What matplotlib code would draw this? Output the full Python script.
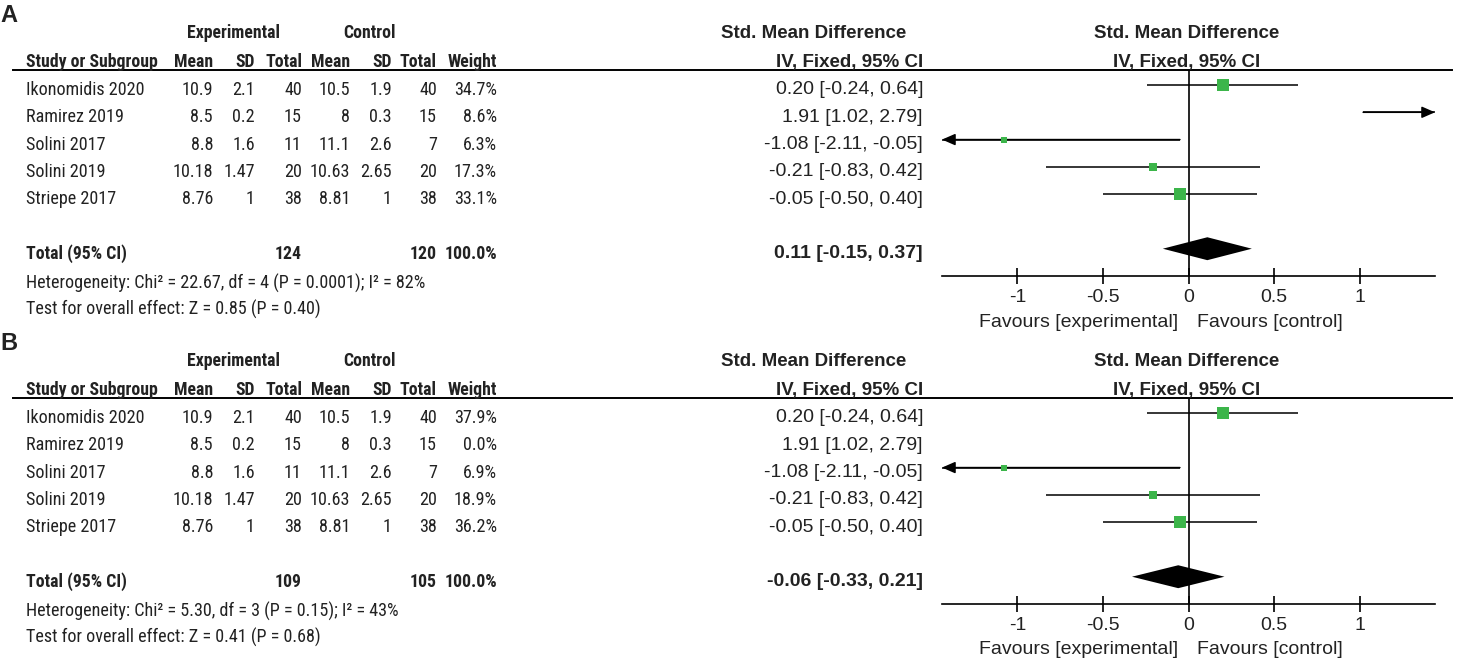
import numpy as np
import matplotlib
matplotlib.use("Agg")
import matplotlib.pyplot as plt
from matplotlib.lines import Line2D
from matplotlib import font_manager as fm

W, H = 1475, 672

# ---- data ----
studies = ["Ikonomidis 2020", "Ramirez 2019", "Solini 2017", "Solini 2019", "Striepe 2017"]
exp_mean = [10.9, 8.5, 8.8, 10.18, 8.76]
exp_sd = [2.1, 0.2, 1.6, 1.47, 1]
exp_n = [40, 15, 11, 20, 38]
ctl_mean = [10.5, 8, 11.1, 10.63, 8.81]
ctl_sd = [1.9, 0.3, 2.6, 2.65, 1]
ctl_n = [40, 15, 7, 20, 38]
smd = [0.20, 1.91, -1.08, -0.21, -0.05]
ci_lo = [-0.24, 1.02, -2.11, -0.83, -0.50]
ci_hi = [0.64, 2.79, -0.05, 0.42, 0.40]

weights_a = [34.7, 8.6, 6.3, 17.3, 33.1]
weights_b = [37.9, 0.0, 6.9, 18.9, 36.2]
total_a = [0.11, -0.15, 0.37]
total_b = [-0.06, -0.33, 0.21]
n_total_a = [124, 120]
n_total_b = [109, 105]
het_a = "Heterogeneity: Chi² = 22.67, df = 4 (P = 0.0001); I² = 82%"
het_b = "Heterogeneity: Chi² = 5.30, df = 3 (P = 0.15); I² = 43%"
test_a = "Test for overall effect: Z = 0.85 (P = 0.40)"
test_b = "Test for overall effect: Z = 0.41 (P = 0.68)"

x_ticks = [-1, -0.5, 0, 0.5, 1]
x_ticklabels = ["-1", "-0.5", "0", "0.5", "1"]

SANS = ["Liberation Sans", "DejaVu Sans"]
TXT = "#222222"
GREEN = "#3cb54a"
XMAX = 1.44
ROW = 27.28


def weight_num(w):
    if isinstance(w, (int, float)):
        return w
    return {"normal": 400, "regular": 400, "book": 400, "medium": 500,
            "semibold": 600, "bold": 700, "heavy": 800}.get(str(w).lower(), 400)


def find_narrow(bold):
    """Look for an installed condensed sans face, else None."""
    prefs = ["Liberation Sans Narrow", "Arial Narrow", "Roboto Condensed",
             "Open Sans Condensed", "DejaVu Sans", "Noto Sans", "Roboto", "Open Sans"]
    target = 700 if bold else 400
    for fam in prefs:
        best = None
        for f in fm.fontManager.ttflist:
            if f.name != fam or f.style != "normal":
                continue
            narrow = ("Narrow" in fam or "Condensed" in fam or
                      str(f.stretch) in ("condensed", "semi-condensed", "extra-condensed"))
            if not narrow:
                continue
            d = abs(weight_num(f.weight) - target)
            if best is None or d < best[0]:
                best = (d, f.fname)
        if best is not None and best[0] <= 100:
            return best[1]
    return None


fig = plt.figure(figsize=(W / 100, H / 100), dpi=100)
renderer = fig.canvas.get_renderer()


def make_fp(bold, sample, width_px, max_size):
    fname = find_narrow(bold)
    if fname:
        fp = fm.FontProperties(fname=fname)
    else:
        fp = fm.FontProperties(family=SANS, weight="bold" if bold else "normal")
    t = fig.text(0, 0, sample, fontproperties=fp, fontsize=10)
    wpx = t.get_window_extent(renderer).width
    t.remove()
    size = min(max_size, 10 * width_px / wpx)
    fp = fp.copy()
    fp.set_size(size)
    return fp


# size the narrow table font so its width matches the reference columns
FP_REG = make_fp(False, "Ikonomidis 2020", 118, 13.4)
FP_BOLD = make_fp(True, "Study or Subgroup", 132, 13.4)


def fx(x):
    return x / W


def fy(y):
    return 1 - y / H


def put(x, y, s, ha="left", bold=False, narrow=True, size=13):
    if narrow:
        fig.text(fx(x), fy(y), s, ha=ha, va="center",
                 fontproperties=FP_BOLD if bold else FP_REG, color=TXT)
    else:
        fig.text(fx(x), fy(y), s, ha=ha, va="center", fontsize=size,
                 fontweight="bold" if bold else "normal", family=SANS, color=TXT)


def draw_panel(off, label, weights, total, n_tot, het, test):
    put(0, 16 + off, label, bold=True, narrow=False, size=17)

    # headers
    put(233, 33 + off, "Experimental", ha="center", bold=True)
    put(369, 33 + off, "Control", ha="center", bold=True)
    put(814, 33 + off, "Std. Mean Difference", ha="center", bold=True, narrow=False, size=13.5)
    put(1187, 33 + off, "Std. Mean Difference", ha="center", bold=True, narrow=False, size=13.5)
    put(26, 62 + off, "Study or Subgroup", bold=True)
    for x, s in [(213, "Mean"), (255, "SD"), (302, "Total"), (350, "Mean"),
                 (392, "SD"), (437, "Total"), (497, "Weight")]:
        put(x, 62 + off, s, ha="right", bold=True)
    put(923, 62 + off, "IV, Fixed, 95% CI", ha="right", bold=True, narrow=False, size=13.5)
    put(1187, 62 + off, "IV, Fixed, 95% CI", ha="center", bold=True, narrow=False, size=13.5)
    fig.add_artist(Line2D([fx(13), fx(1452)], [fy(70 + off)] * 2, color="k", lw=1.4))

    # study rows
    for i, name in enumerate(studies):
        y = 90 + off + i * ROW
        put(26, y, name)
        put(213, y, f"{exp_mean[i]:g}", ha="right")
        put(255, y, f"{exp_sd[i]:g}", ha="right")
        put(302, y, f"{exp_n[i]}", ha="right")
        put(350, y, f"{ctl_mean[i]:g}", ha="right")
        put(392, y, f"{ctl_sd[i]:g}", ha="right")
        put(437, y, f"{ctl_n[i]}", ha="right")
        put(497, y, f"{weights[i]:.1f}%", ha="right")
        put(923, y, f"{smd[i]:.2f} [{ci_lo[i]:.2f}, {ci_hi[i]:.2f}]", ha="right",
            narrow=False, size=14)

    yt = 90 + off + 6 * ROW
    put(26, yt, "Total (95% CI)", bold=True)
    put(302, yt, f"{n_tot[0]}", ha="right", bold=True)
    put(437, yt, f"{n_tot[1]}", ha="right", bold=True)
    put(497, yt, "100.0%", ha="right", bold=True)
    put(923, yt, f"{total[0]:.2f} [{total[1]:.2f}, {total[2]:.2f}]", ha="right",
        bold=True, narrow=False, size=14)
    put(26, 283 + off, het)
    put(26, 309 + off, test)

    # forest plot
    ax = fig.add_axes([fx(942), fy(276 + off), (1435 - 942) / W, (276 - 70) / H])
    ax.set_xlim(-XMAX, XMAX)
    ax.set_ylim(7, -0.55)
    ax.patch.set_alpha(0)
    for sp in ["top", "left", "right"]:
        ax.spines[sp].set_visible(False)
    ax.spines["bottom"].set_linewidth(1.2)
    ax.set_yticks([])
    ax.set_xticks(x_ticks)
    ax.set_xticklabels(x_ticklabels, fontsize=14, family=SANS, color=TXT)
    ax.tick_params(axis="x", direction="inout", length=11, width=1.2, pad=4)
    ax.axvline(0, color="k", lw=1.2)

    for i in range(len(studies)):
        w = weights[i]
        if w <= 0:
            continue
        lo, hi = ci_lo[i], ci_hi[i]
        a, b = max(lo, -XMAX), min(hi, XMAX)
        ax.plot([a, b], [i, i], color="k", lw=1.1, solid_capstyle="butt")
        arrow = dict(arrowstyle="-|>,head_length=0.8,head_width=0.35", color="k",
                     lw=1.1, shrinkA=0, shrinkB=0, mutation_scale=10)
        if hi > XMAX:
            ax.annotate("", xy=(XMAX, i), xytext=(lo, i), arrowprops=arrow)
        if lo < -XMAX:
            ax.annotate("", xy=(-XMAX, i), xytext=(hi, i), arrowprops=arrow)
        if -XMAX <= smd[i] <= XMAX:
            ax.plot(smd[i], i, "s", color=GREEN, mew=0,
                    ms=2.05 * np.sqrt(w) * 0.72, zorder=3)

    est, lo, hi = total
    h = 0.42
    ax.fill([lo, est, hi, est], [6, 6 - h, 6, 6 + h], color="k", lw=0, zorder=3)

    put(1178, 322 + off, "Favours [experimental]", ha="right", narrow=False, size=14)
    put(1197, 322 + off, "Favours [control]", ha="left", narrow=False, size=14)


draw_panel(0, "A", weights_a, total_a, n_total_a, het_a, test_a)
draw_panel(328, "B", weights_b, total_b, n_total_b, het_b, test_b)

fig.savefig("out.png", dpi=100, facecolor="white")
